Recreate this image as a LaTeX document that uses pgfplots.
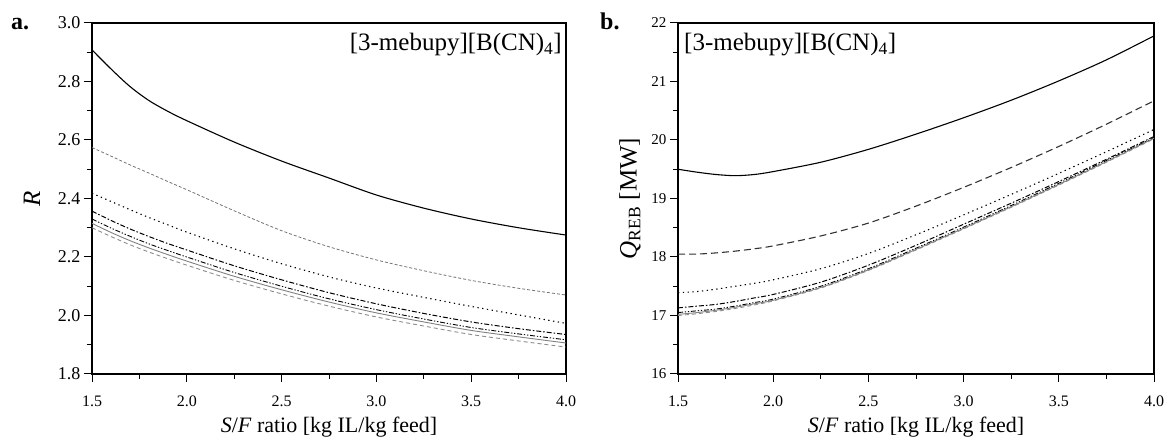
\documentclass[border=0pt]{standalone}
\usepackage{fontspec}
\setmainfont{Liberation Serif}
\usepackage{pgfplots}
\pgfplotsset{compat=1.18}
\begin{document}
\begin{tikzpicture}
\useasboundingbox (0,0) rectangle (1167pt,441pt);
\pgfplotsset{
  base/.style={
    scale only axis, height=351pt,
    xmin=1.5, xmax=4,
    xtick={1.5,2,2.5,3,3.5,4}, minor x tick num=1, minor y tick num=1,
    tick align=outside, xtick pos=bottom, ytick pos=left,
    major tick length=8pt, minor tick length=5pt,
    axis line style={line width=1.2pt},
    every tick/.style={line width=1pt, black},
    /pgf/number format/assume math mode=true,
    xticklabel={\pgfmathprintnumber[fixed,fixed zerofill,precision=1]{\tick}},
    every x tick label/.append style={font=\fontsize{16}{16}\selectfont, yshift=-10pt},
    every axis x label/.style={at={([yshift=-53pt]rel axis cs:0.5,0)}, anchor=center, font=\fontsize{22}{22}\selectfont},
    every axis y label/.style={rotate=90, anchor=center, font=\fontsize{25}{25}\selectfont},
    xlabel={\textit{S}/\textit{F} ratio [kg IL/kg feed]},
  },
  s1/.style={black, line width=1.1pt, smooth, tension=0.5},
  s2a/.style={black!55, line width=0.8pt, dash pattern=on 3pt off 2pt, smooth, tension=0.5},
  s2b/.style={black!80, line width=1.1pt, dash pattern=on 7pt off 4pt, smooth, tension=0.5},
  s3/.style={black, line width=1.1pt, dash pattern=on 1.3pt off 3.5pt, smooth, tension=0.5},
  s4/.style={black, line width=1.0pt, dash pattern=on 5pt off 2pt on 1.5pt off 2pt, smooth, tension=0.5},
  s5/.style={black, line width=0.9pt, dash pattern=on 5pt off 1.8pt on 1.3pt off 1.8pt on 1.3pt off 1.8pt, smooth, tension=0.5},
  s6/.style={black!50, line width=0.9pt, smooth, tension=0.5},
  s7/.style={black!45, line width=0.9pt, dash pattern=on 4pt off 3pt, smooth, tension=0.5},
}
% ---------------- panel a ----------------
\begin{axis}[base, at={(92pt,67pt)}, anchor=south west, width=474pt,
  ymin=1.8, ymax=3.0, ytick={1.8,2.0,...,3.0},
  yticklabel={\pgfmathprintnumber[fixed,fixed zerofill,precision=1]{\tick}},
  every y tick label/.append style={font=\fontsize{18}{18}\selectfont},
  ylabel={\textit{R}}, ylabel style={at={([xshift=-60pt]rel axis cs:0,0.5)}},
]
\addplot[s1] coordinates {(1.5,2.908)(1.6,2.843)(1.7,2.783)(1.8,2.735)(1.9,2.698)(2.0,2.666)(2.25,2.593)(2.5,2.528)(2.75,2.470)(3.0,2.412)(3.25,2.367)(3.5,2.330)(3.75,2.300)(4.0,2.275)};
\addplot[s2a] coordinates {(1.5,2.574)(1.6,2.545)(1.7,2.515)(1.8,2.487)(1.9,2.458)(2.0,2.430)(2.25,2.358)(2.5,2.290)(2.75,2.235)(3.0,2.190)(3.25,2.153)(3.5,2.120)(3.75,2.093)(4.0,2.070)};
\addplot[s3] coordinates {(1.5,2.418)(1.6,2.390)(1.7,2.362)(1.8,2.335)(1.9,2.310)(2.0,2.285)(2.25,2.228)(2.5,2.177)(2.75,2.132)(3.0,2.094)(3.25,2.062)(3.5,2.031)(3.75,2.002)(4.0,1.973)};
\addplot[s4] coordinates {(1.5,2.357)(1.6,2.325)(1.7,2.296)(1.8,2.270)(1.9,2.246)(2.0,2.224)(2.25,2.170)(2.5,2.122)(2.75,2.078)(3.0,2.040)(3.25,2.007)(3.5,1.978)(3.75,1.955)(4.0,1.935)};
\addplot[s5] coordinates {(1.5,2.330)(1.6,2.299)(1.7,2.271)(1.8,2.245)(1.9,2.222)(2.0,2.200)(2.25,2.147)(2.5,2.100)(2.75,2.057)(3.0,2.020)(3.25,1.988)(3.5,1.959)(3.75,1.937)(4.0,1.917)};
\addplot[s6] coordinates {(1.5,2.315)(1.6,2.284)(1.7,2.256)(1.8,2.231)(1.9,2.208)(2.0,2.186)(2.25,2.134)(2.5,2.088)(2.75,2.046)(3.0,2.009)(3.25,1.978)(3.5,1.949)(3.75,1.927)(4.0,1.906)};
\addplot[s7] coordinates {(1.5,2.300)(1.6,2.270)(1.7,2.242)(1.8,2.217)(1.9,2.194)(2.0,2.172)(2.25,2.120)(2.5,2.074)(2.75,2.032)(3.0,1.995)(3.25,1.964)(3.5,1.935)(3.75,1.913)(4.0,1.892)};
\node[anchor=north east, inner sep=0pt, font=\fontsize{25}{25}\selectfont] at ([xshift=-4pt,yshift=-10pt]rel axis cs:1,1) {[3-mebupy][B(CN)\textsubscript{4}]};
\end{axis}
% ---------------- panel b ----------------
\begin{axis}[base, at={(678pt,67pt)}, anchor=south west, width=476pt,
  ymin=16, ymax=22, ytick={16,17,...,22},
  yticklabel={\pgfmathprintnumber{\tick}},
  every y tick label/.append style={font=\fontsize{15}{15}\selectfont},
  ylabel={\textit{Q}\textsubscript{REB} [MW]}, ylabel style={at={([xshift=-48pt]rel axis cs:0,0.5)}},
]
\addplot[s1] coordinates {(1.5,19.50)(1.6,19.45)(1.7,19.41)(1.8,19.39)(1.9,19.41)(2.0,19.46)(2.25,19.62)(2.5,19.84)(2.75,20.10)(3.0,20.38)(3.25,20.68)(3.5,21.01)(3.75,21.37)(4.0,21.78)};
\addplot[s2b] coordinates {(1.5,18.05)(1.6,18.05)(1.7,18.07)(1.8,18.10)(1.9,18.14)(2.0,18.19)(2.25,18.36)(2.5,18.58)(2.75,18.87)(3.0,19.19)(3.25,19.53)(3.5,19.89)(3.75,20.27)(4.0,20.67)};
\addplot[s3] coordinates {(1.5,17.39)(1.6,17.41)(1.7,17.45)(1.8,17.50)(1.9,17.55)(2.0,17.61)(2.25,17.80)(2.5,18.06)(2.75,18.38)(3.0,18.72)(3.25,19.07)(3.5,19.43)(3.75,19.80)(4.0,20.18)};
\addplot[s4] coordinates {(1.5,17.13)(1.6,17.16)(1.7,17.19)(1.8,17.24)(1.9,17.30)(2.0,17.36)(2.25,17.57)(2.5,17.86)(2.75,18.20)(3.0,18.56)(3.25,18.92)(3.5,19.29)(3.75,19.67)(4.0,20.06)};
\addplot[s5] coordinates {(1.5,17.05)(1.6,17.08)(1.7,17.11)(1.8,17.16)(1.9,17.22)(2.0,17.28)(2.25,17.50)(2.5,17.80)(2.75,18.15)(3.0,18.51)(3.25,18.88)(3.5,19.26)(3.75,19.65)(4.0,20.04)};
\addplot[s6] coordinates {(1.5,17.02)(1.6,17.05)(1.7,17.09)(1.8,17.14)(1.9,17.20)(2.0,17.26)(2.25,17.48)(2.5,17.78)(2.75,18.13)(3.0,18.49)(3.25,18.86)(3.5,19.24)(3.75,19.63)(4.0,20.03)};
\addplot[s7] coordinates {(1.5,17.00)(1.6,17.03)(1.7,17.07)(1.8,17.12)(1.9,17.18)(2.0,17.25)(2.25,17.47)(2.5,17.77)(2.75,18.12)(3.0,18.48)(3.25,18.85)(3.5,19.23)(3.75,19.62)(4.0,20.02)};
\node[anchor=north west, inner sep=0pt, font=\fontsize{25}{25}\selectfont] at ([xshift=6pt,yshift=-10pt]rel axis cs:0,1) {[3-mebupy][B(CN)\textsubscript{4}]};
\end{axis}
\node[anchor=base west, inner sep=0pt, font=\bfseries\fontsize{24}{24}\selectfont] at (11pt,411pt) {a.};
\node[anchor=base west, inner sep=0pt, font=\bfseries\fontsize{24}{24}\selectfont] at (600pt,411pt) {b.};
\end{tikzpicture}
\end{document}
